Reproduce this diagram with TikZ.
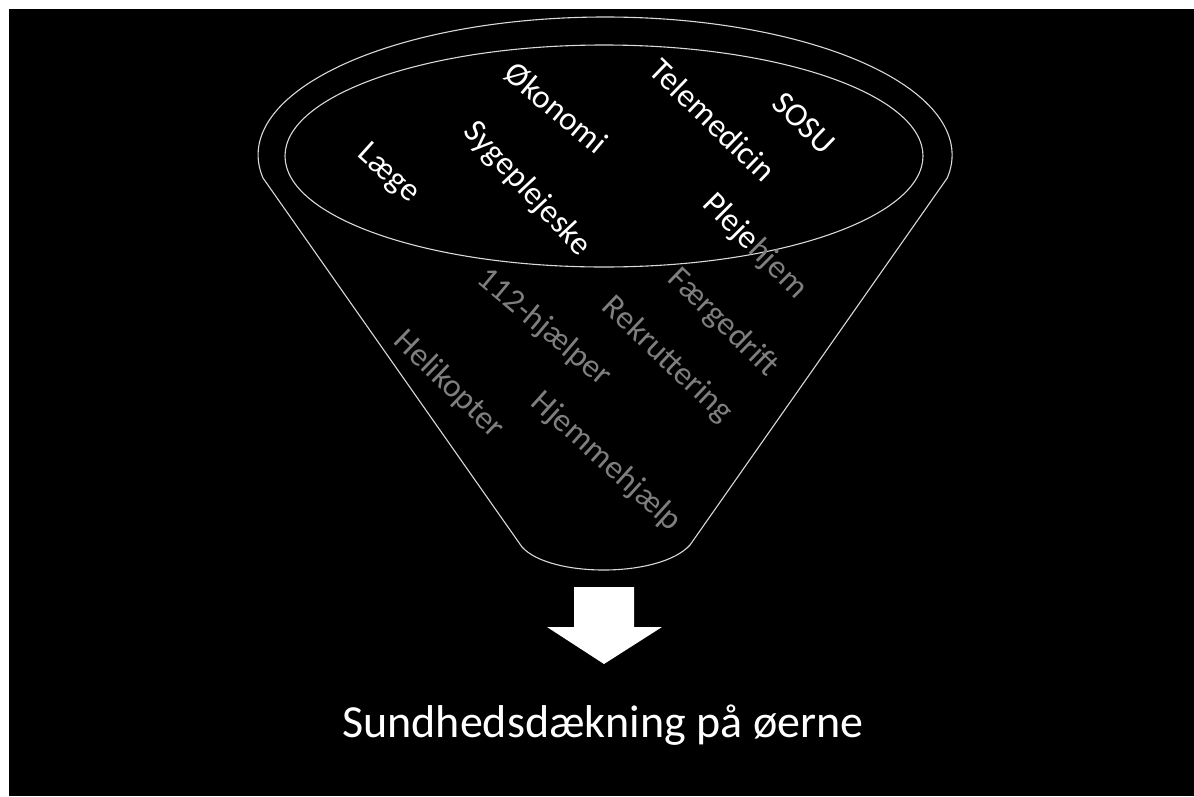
\documentclass[tikz,border=0pt]{standalone}
\usepackage{fontspec}
\setmainfont{Carlito}
\definecolor{txtgray}{HTML}{7F7F7F}
\definecolor{linegray}{HTML}{D9D9D9}
\tikzset{
  funnelline/.style={draw=linegray, line width=1.1pt},
  item/.style={font=\fontsize{33}{39}\selectfont, inner sep=0pt, anchor=center},
  initem/.style={item, text=white},
  outitem/.style={item, text=txtgray},
}
\begin{document}
\begin{tikzpicture}[x=1pt,y=-1pt]
\fill[white] (0,0) rectangle (1194,796);
\fill[black] (9,9) rectangle (1194,796);
\useasboundingbox (0,0) rectangle (1194,796);

% funnel outline
\draw[funnelline] (263,178) arc[start angle=189.6,end angle=-9.6,x radius=347pt,y radius=138pt]
  -- (690,545) .. controls (660,578) and (550,578) .. (522,547) -- cycle;
% inner ellipse
\draw[funnelline] (604,156) ellipse [x radius=319pt, y radius=111pt];

% white items inside the ellipse
\node[initem, rotate=-40] (okonomi) at (556,108) {Økonomi};
\node[initem, rotate=-44] (telemed) at (713,120) {Telemedicin};
\node[initem, rotate=-44] (sosu) at (804,123) {SOSU};
\node[initem, rotate=-47] (sygepl) at (527,189) {Sygeplejeske};
\node[initem, rotate=-42] (laege) at (388,174) {Læge};

% Plejehjem: white part inside the ellipse, grey part outside
\node[initem, rotate=-45, anchor=base west] (pleje) at (701,205) {Pleje};
\node[outitem, rotate=-45, anchor=base west] (hjem) at (pleje.base east) {hjem};

% grey items
\node[outitem, rotate=-40] (hjaelper) at (544,328) {112-hjælper};
\node[outitem, rotate=-44] (faerge) at (723,323) {Færgedrift};
\node[outitem, rotate=-43.5] (rekrut) at (667,360) {Rekruttering};
\node[outitem, rotate=-44] (heli) at (449,385) {Helikopter};
\node[outitem, rotate=-42] (hjemme) at (606,462) {Hjemmehjælp};

% block arrow
\fill[white] (574,587) -- (634,587) -- (634,627) -- (662,627) -- (604,664)
  -- (547,627) -- (574,627) -- cycle;

% result
\node[font=\fontsize{46}{55}\selectfont, text=white, inner sep=0pt, anchor=base] (result) at (603,737) {Sundhedsdækning på øerne};
\end{tikzpicture}
\end{document}
